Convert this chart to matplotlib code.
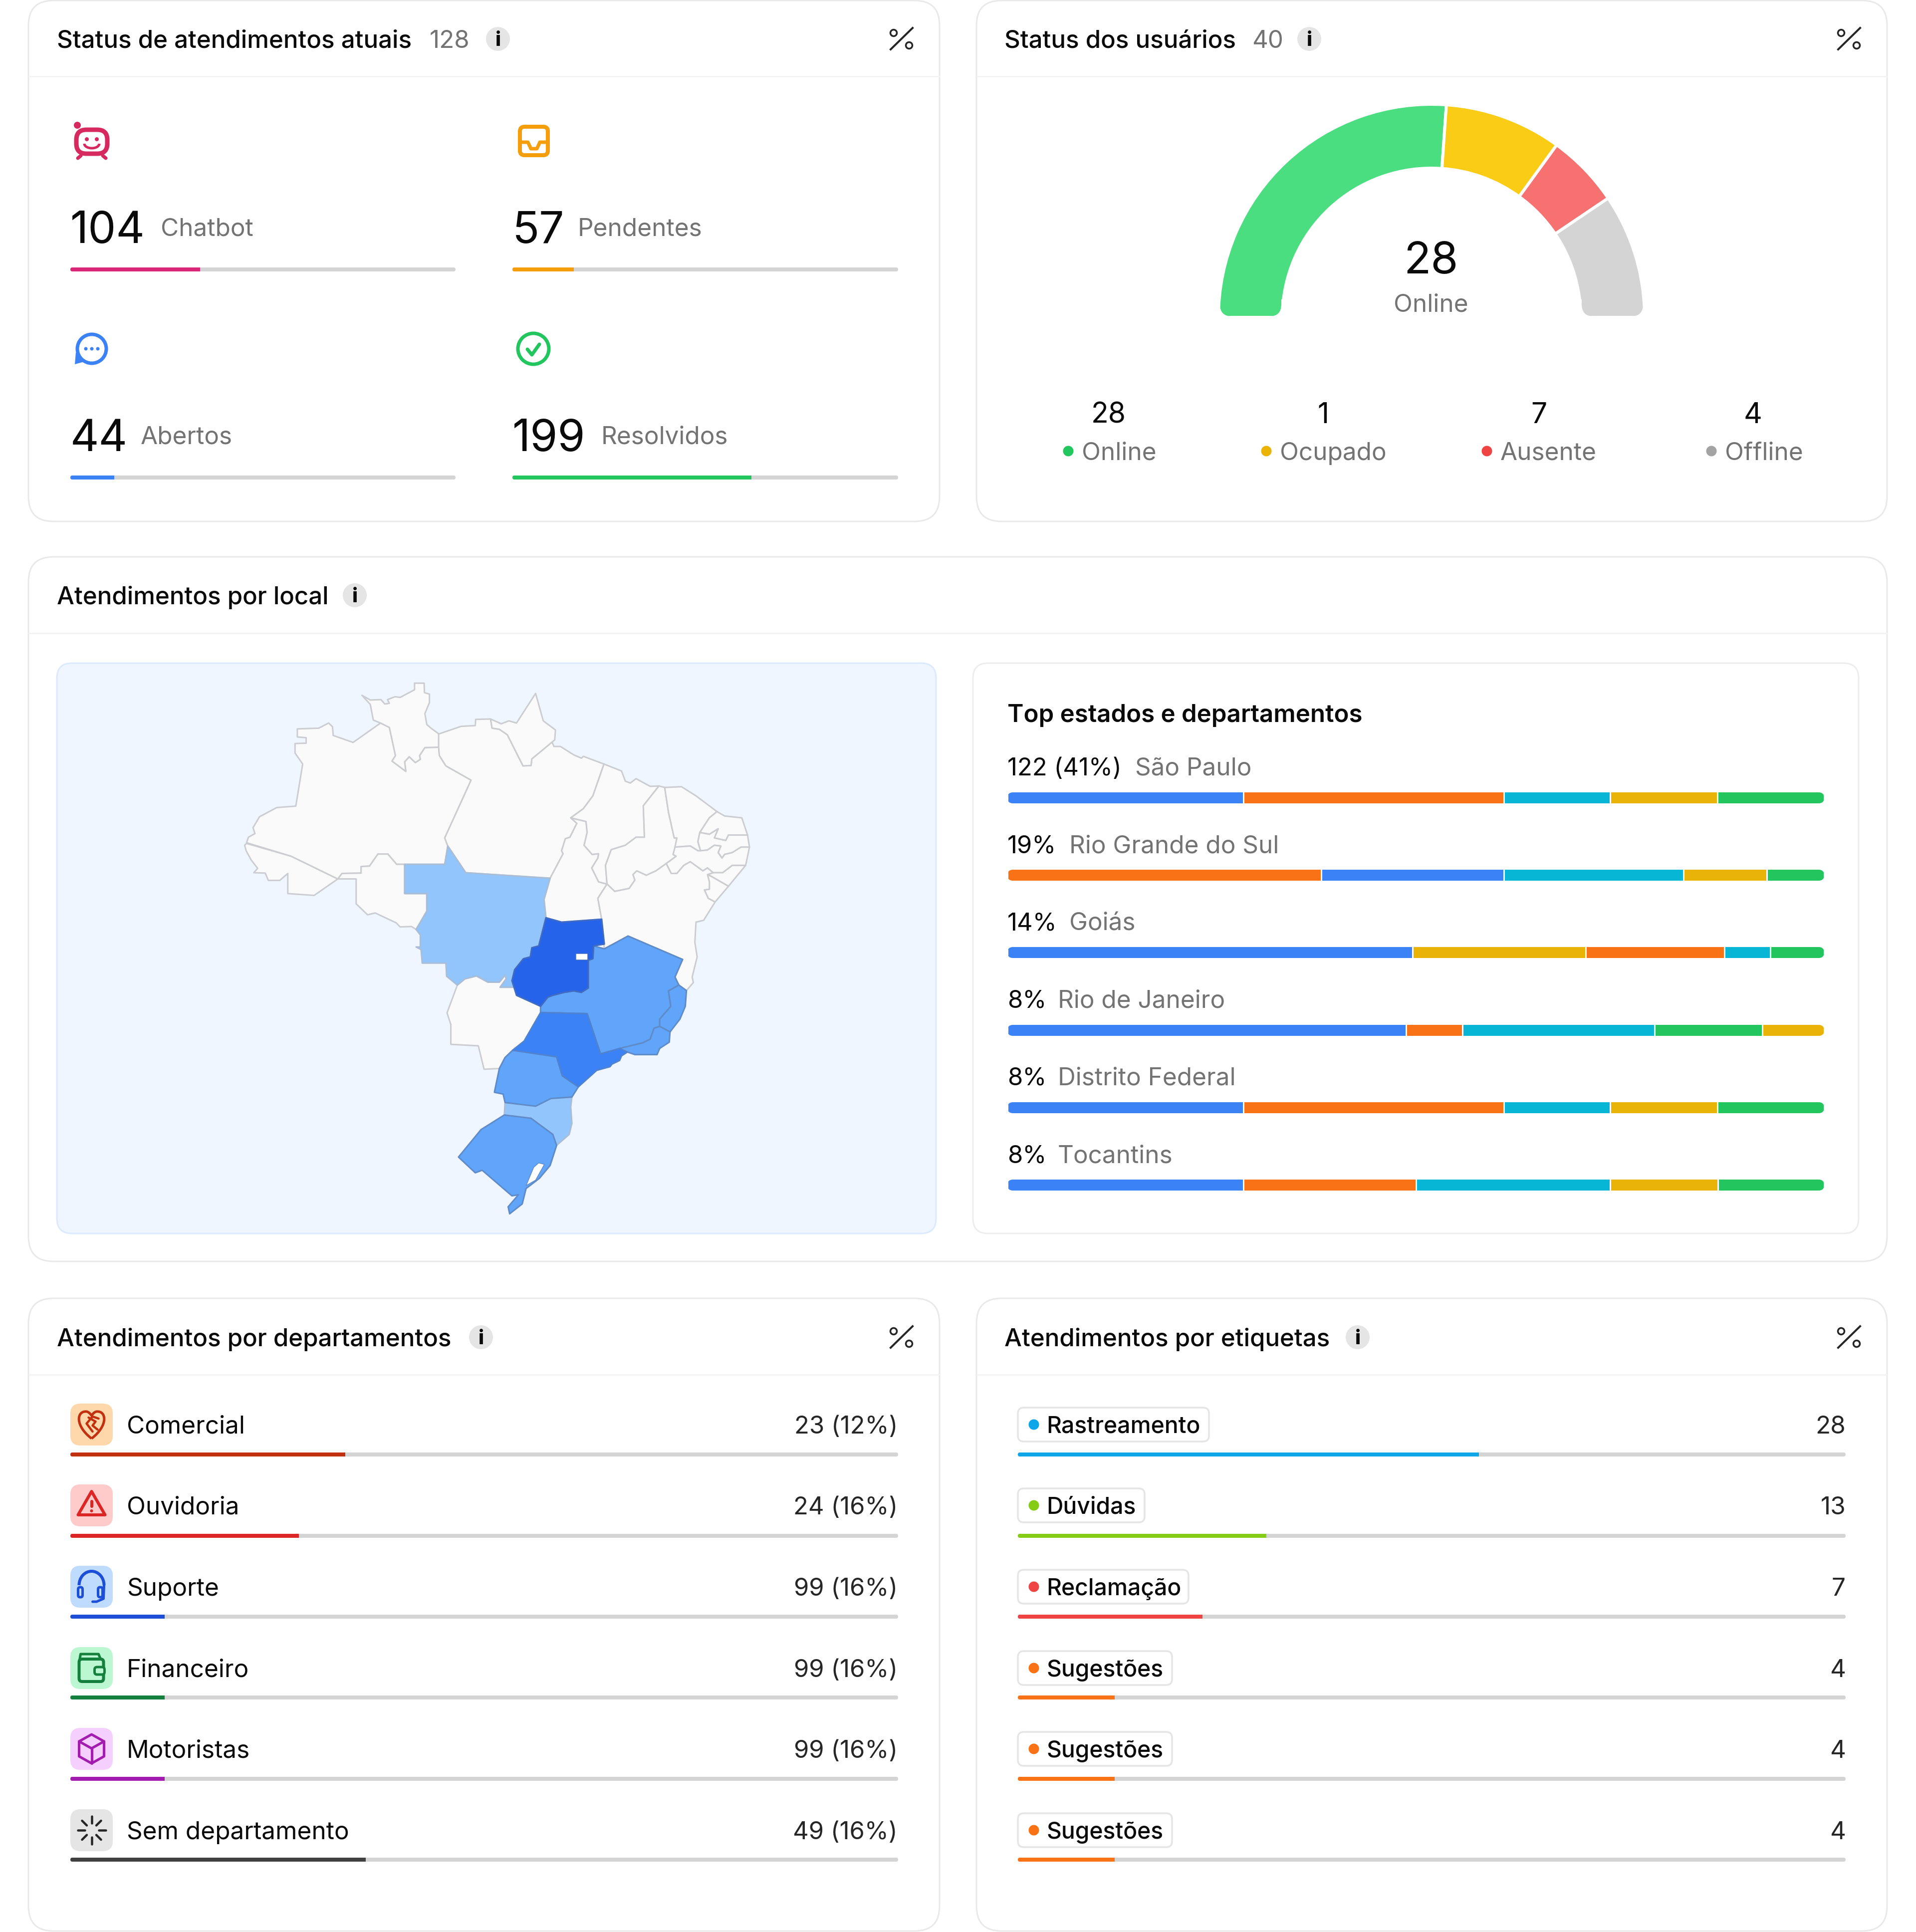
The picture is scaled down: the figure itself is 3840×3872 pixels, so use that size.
import matplotlib
matplotlib.use('Agg')
import matplotlib.pyplot as plt
from matplotlib.patches import FancyBboxPatch, Circle, Polygon, PathPatch, Arc, Ellipse
from matplotlib.path import Path
from matplotlib.transforms import Affine2D

plt.rcParams['font.family'] = ['Inter', 'DejaVu Sans']

# ---- data ----
status_labels = ['Chatbot', 'Pendentes', 'Abertos', 'Resolvidos']
status_values = [104, 57, 44, 199]
status_share = [33.7, 15.9, 11.4, 62.0]
status_colors = ['#DB2777', '#F59E0B', '#3B82F6', '#22C55E']

gauge_angles = [94, 32, 20, 34]
gauge_colors = ['#4ADE80', '#FACC15', '#F87171', '#D4D4D4']
user_labels = ['Online', 'Ocupado', 'Ausente', 'Offline']
user_values = [28, 1, 7, 4]
user_colors = ['#22C55E', '#EAB308', '#EF4444', '#A3A3A3']

top_values = ['122 (41%)', '19%', '14%', '8%', '8%', '8%']
top_states = ['São Paulo', 'Rio Grande do Sul', 'Goiás', 'Rio de Janeiro', 'Distrito Federal', 'Tocantins']
B, O, T, Y, G = '#3B82F6', '#F97316', '#06B6D4', '#EAB308', '#22C55E'
top_shares = [
    [28.9, 31.9, 13.0, 13.1, 13.1],
    [38.4, 22.4, 22.0, 10.2, 7.0],
    [49.6, 21.2, 17.0, 5.6, 6.6],
    [48.8, 6.9, 23.5, 13.2, 7.6],
    [28.9, 31.9, 13.0, 13.1, 13.1],
    [28.9, 21.1, 23.8, 13.2, 13.0],
]
top_colors = [
    [B, O, T, Y, G],
    [O, B, T, Y, G],
    [B, Y, O, T, G],
    [B, O, T, G, Y],
    [B, O, T, Y, G],
    [B, O, T, Y, G],
]

dept_labels = ['Comercial', 'Ouvidoria', 'Suporte', 'Financeiro', 'Motoristas', 'Sem departamento']
dept_values = ['23 (12%)', '24 (16%)', '99 (16%)', '99 (16%)', '99 (16%)', '49 (16%)']
dept_share = [33.2, 27.6, 11.4, 11.4, 11.4, 35.7]
dept_colors = ['#C2310F', '#DC2626', '#1D4ED8', '#15803D', '#A21CAF', '#404040']
dept_bg = ['#FED7AA', '#FECACA', '#BFDBFE', '#BBF7D0', '#F5D0FE', '#E5E5E5']

tag_labels = ['Rastreamento', 'Dúvidas', 'Reclamação', 'Sugestões', 'Sugestões', 'Sugestões']
tag_values = [28, 13, 7, 4, 4, 4]
tag_share = [55.7, 30.0, 22.3, 11.7, 11.7, 11.7]
tag_colors = ['#0EA5E9', '#84CC16', '#EF4444', '#F97316', '#F97316', '#F97316']

# state outlines, in map units, and how many attendances band each one falls in
states = {
    'AC': [(118,510),(123,505),(240,540),(362,602),(300,647),(231,642),(231,587),(210,606),(180,606),(172,586),(142,585),(152,573),(135,550),(122,525)],
    'AM': [(123,503),(128,488),(145,478),(140,462),(157,432),(202,407),(252,403),(270,288),(250,258),(250,232),(279,231),(279,216),(256,214),(256,192),(312,190),(338,176),(348,186),(350,210),(402,229),(474,176),(497,188),(513,265),(504,280),(540,308),(537,282),(549,268),(565,284),(578,275),(576,265),(590,243),(626,242),(628,265),(645,293),(711,332),(642,490),(650,512),(642,562),(516,562),(493,534),(467,534),(445,567),(423,568),(423,586),(373,587),(362,602),(240,540)],
    'RR': [(425,100),(447,113),(475,112),(485,124),(497,122),(492,112),(512,104),(525,106),(563,85),(563,67),(588,67),(589,93),(602,97),(602,120),(590,150),(595,180),(606,190),(627,206),(626,242),(590,243),(576,265),(578,275),(565,284),(549,268),(537,282),(540,308),(504,280),(513,265),(497,188),(474,176),(455,168),(447,125)],
    'PA': [(626,206),(685,185),(722,183),(723,166),(762,165),(766,190),(785,193),(806,208),(847,293),(868,292),(870,274),(923,228),(928,240),(945,240),(980,263),(1000,272),(1005,267),(1059,288),(1030,375),(1005,410),(972,435),(988,450),(970,488),(958,492),(948,525),(952,533),(918,600),(697,585),(650,512),(642,490),(711,332),(645,293),(628,265),(626,242)],
    'AP': [(762,165),(790,178),(810,170),(830,176),(880,95),(900,170),(932,195),(930,222),(870,274),(868,292),(847,293),(806,208),(785,193),(766,190)],
    'RO': [(362,602),(373,587),(423,586),(423,568),(445,567),(467,534),(493,534),(516,562),(537,562),(537,642),(595,642),(595,690),(567,740),(555,732),(525,733),(515,722),(460,695),(440,700),(410,670),(410,602)],
    'TO': [(918,600),(952,533),(948,525),(958,492),(970,488),(988,450),(972,435),(1012,445),(1015,475),(1007,510),(1028,535),(1045,533),(1043,545),(1027,572),(1045,610),(1067,616),(1043,655),(1053,712),(948,720),(907,708),(902,658)],
    'MA': [(1059,288),(1105,307),(1115,335),(1128,340),(1143,328),(1180,349),(1203,348),(1162,402),(1165,488),(1143,488),(1115,510),(1078,522),(1063,565),(1067,616),(1045,610),(1027,572),(1043,545),(1045,533),(1028,535),(1007,510),(1015,475),(1012,445),(972,435),(1005,410),(1030,375)],
    'PI': [(1203,348),(1218,352),(1228,420),(1243,490),(1250,490),(1245,520),(1240,535),(1248,540),(1222,560),(1195,580),(1170,592),(1145,580),(1135,590),(1140,605),(1125,628),(1087,636),(1067,616),(1063,565),(1078,522),(1115,510),(1143,488),(1165,488),(1162,402)],
    'CE': [(1218,352),(1262,350),(1300,375),(1355,418),(1335,435),(1310,475),(1305,500),(1312,525),(1305,525),(1285,512),(1245,515),(1250,490),(1243,490),(1228,420)],
    'RN': [(1355,418),(1375,430),(1420,435),(1435,482),(1385,482),(1378,497),(1348,490),(1358,465),(1335,480),(1310,475),(1335,435)],
    'PB': [(1310,475),(1335,480),(1358,465),(1348,490),(1378,497),(1385,482),(1435,482),(1440,515),(1418,515),(1395,530),(1375,535),(1368,545),(1358,530),(1365,512),(1348,510),(1330,523),(1312,525),(1305,500)],
    'PE': [(1245,515),(1285,512),(1305,525),(1312,525),(1330,523),(1348,510),(1365,512),(1358,530),(1368,545),(1375,535),(1395,530),(1418,515),(1440,515),(1430,565),(1395,565),(1370,585),(1345,585),(1330,572),(1318,580),(1285,555),(1268,565),(1250,587),(1235,587),(1222,560),(1248,540),(1240,535)],
    'AL': [(1330,590),(1345,585),(1370,585),(1395,565),(1430,565),(1385,622),(1340,595)],
    'SE': [(1330,590),(1340,595),(1385,622),(1350,665),(1332,655),(1322,632),(1335,630),(1335,610)],
    'BA': [(1067,616),(1087,636),(1125,628),(1140,605),(1135,590),(1145,580),(1170,592),(1195,580),(1222,560),(1235,587),(1250,587),(1268,565),(1285,555),(1318,580),(1330,572),(1345,585),(1330,590),(1335,610),(1335,630),(1322,632),(1332,655),(1350,665),(1320,715),(1300,720),(1297,775),(1303,815),(1290,870),(1293,885),(1275,907),(1255,892),(1245,870),(1265,822),(1122,758),(1060,793),(1053,712),(1043,655)],
    'MS': [(675,892),(695,875),(725,867),(755,884),(785,884),(800,865),(803,875),(787,898),(825,898),(830,920),(893,950),(893,967),(850,1045),(820,1070),(800,1090),(785,1120),(745,1122),(730,1058),(658,1054),(658,1000),(648,968)],
    'MT': [(650,512),(697,585),(918,600),(902,658),(907,708),(888,785),(870,790),(866,815),(848,820),(825,850),(818,880),(825,898),(787,898),(803,875),(800,865),(785,884),(755,884),(725,867),(695,875),(675,892),(647,868),(645,832),(583,832),(580,795),(567,788),(578,788),(578,755),(567,740),(595,690),(595,642),(537,642),(537,562),(642,562)],
    'SC': [(800,1213),(880,1223),(920,1202),(975,1198),(972,1225),(975,1270),(968,1300),(935,1330),(925,1300),(868,1256),(798,1247)],
    'PR': [(820,1070),(935,1088),(950,1140),(992,1170),(975,1198),(920,1202),(880,1223),(800,1213),(795,1190),(772,1185),(785,1120),(800,1090)],
    'RS': [(798,1247),(868,1256),(925,1300),(935,1330),(918,1385),(890,1420),(855,1448),(845,1490),(812,1517),(808,1498),(835,1465),(818,1468),(740,1398),(722,1405),(678,1362),(737,1287)],
    'MG': [(1122,758),(1265,822),(1245,870),(1255,892),(1228,908),(1234,950),(1205,985),(1205,1005),(1190,1010),(1180,1040),(1160,1050),(1050,1080),(1015,970),(893,967),(893,950),(912,925),(925,920),(955,912),(980,908),(1000,912),(1018,900),(1018,824),(1030,820),(1032,785),(1060,793)],
    'ES': [(1255,892),(1275,907),(1272,950),(1258,985),(1232,1020),(1205,1005),(1205,985),(1234,950),(1228,908)],
    'RJ': [(1190,1010),(1205,1005),(1232,1020),(1230,1048),(1205,1065),(1198,1082),(1140,1082),(1120,1075),(1098,1090),(1100,1065),(1160,1050),(1180,1040)],
    'SP': [(893,967),(1015,970),(1050,1080),(1100,1065),(1120,1075),(1105,1085),(1100,1098),(1080,1108),(1075,1115),(1040,1125),(992,1170),(950,1140),(935,1088),(820,1070),(850,1045)],
    'GO': [(907,708),(948,720),(1053,712),(1060,780),(1032,785),(1030,820),(1018,824),(1018,900),(1000,912),(980,908),(955,912),(925,920),(912,925),(893,950),(830,920),(818,880),(825,850),(848,820),(866,815),(870,790),(888,785)],
    'DF': [(985,806),(1017,806),(1017,824),(985,824)],
    'LAGOA': [(888,1378),(903,1382),(880,1425),(855,1440),(875,1390)],
}
state_band = {'MT': 1, 'SC': 1, 'MG': 2, 'ES': 2, 'RJ': 2, 'PR': 2, 'RS': 2, 'SP': 3, 'GO': 4}
band_fill = ['#FAFAFA', '#93C5FD', '#60A5FA', '#3B82F6', '#2563EB']
band_edge = ['#CBCDD0', '#A9BDD6', '#5F8CC8', '#4F82D0', '#3F6BC2']

# ---- figure, one axes in reference pixels for the layout ----
W, H = 3840, 3872
fig = plt.figure(figsize=(W / 100, H / 100), dpi=100, facecolor='white')
main = fig.add_axes([0, 0, 1, 1])
main.set_xlim(0, W)
main.set_ylim(H, 0)
main.axis('off')

INK = '#0A0A0A'
GREY = '#737373'
BODY = 49.5


def pt(px):
    return px * 0.72


def text(x, y, s, size, color=INK, weight='normal', ha='left'):
    # y is the middle of the capitals
    main.text(x, y + size * 0.36, s, fontsize=pt(size), color=color, fontweight=weight, ha=ha, va='baseline')


def rbox(x0, y0, x1, y1, r, fc='white', ec='none', lw=0, z=1):
    p = FancyBboxPatch((x0, y0), x1 - x0, y1 - y0, boxstyle=f'round,pad=0,rounding_size={r}',
                       fc=fc, ec=ec, lw=pt(lw), zorder=z, transform=main.transData)
    main.add_patch(p)
    return p


def clip_box(x0, y0, x1, y1, r):
    return FancyBboxPatch((x0, y0), x1 - x0, y1 - y0, boxstyle=f'round,pad=0,rounding_size={r}',
                          transform=main.transData)


def px_axes(x0, y0, x1, y1):
    ax = fig.add_axes([x0 / W, 1 - y1 / H, (x1 - x0) / W, (y1 - y0) / H])
    ax.axis('off')
    return ax


def progress(x0, x1, y, share, color, h=8):
    ax = px_axes(x0, y - h, x1, y + h)
    ax.set_xlim(0, 100)
    ax.set_ylim(-1, 1)
    bg = ax.barh(0, 100, height=1, color='#D4D4D4')
    fg = ax.barh(0, share, height=1, color=color)
    clip = clip_box(x0, y - h / 2, x1, y + h / 2, h / 2)
    for b in list(bg) + list(fg):
        b.set_clip_path(clip)


def card(x0, y0, x1, y1, line_y):
    rbox(x0, y0, x1, y1, 50, ec='#E9E9E9', lw=3)
    main.plot([x0, x1], [line_y, line_y], color='#F4F4F4', lw=pt(3), zorder=2, solid_capstyle='butt')


def info(x, y):
    main.add_patch(Ellipse((x, y), 48, 48, fc='#E5E5E5', ec='none', zorder=3))
    main.text(x, y + 14, 'i', fontsize=pt(39), fontweight='heavy', color=INK, ha='center', va='baseline', zorder=4)


def pct_icon(x, y):
    main.plot([x - 22, x + 22], [y + 21, y - 22], color='#262626', lw=pt(4), zorder=3)
    for dx, dy in [(-16, -12), (15, 13)]:
        main.add_patch(Ellipse((x + dx, y + dy), 13, 13, fc='none', ec='#262626', lw=pt(3.5), zorder=3))


def line(xs, ys, color, lw=6, z=4):
    main.plot(xs, ys, color=color, lw=pt(lw), zorder=z, solid_capstyle='round', solid_joinstyle='round')


def ring(x, y, r, color, lw=6, fc='none', z=4):
    main.add_patch(Circle((x, y), r, fc=fc, ec=color, lw=pt(lw), zorder=z))


# ---- cards ----
card(57, 1, 1883, 1045, 153)
card(1957, 1, 3782, 1045, 153)
card(57, 1116, 3782, 2528, 1269)
card(57, 2602, 1883, 3870, 2755)
card(1957, 2602, 3782, 3870, 2755)

TITLE = 49.3
text(114, 78, 'Status de atendimentos atuais', TITLE, weight='medium')
text(861, 78, '128', TITLE, GREY)
info(998, 78)
pct_icon(1807, 78)
text(2013, 78, 'Status dos usuários', TITLE, weight='medium')
text(2509, 78, '40', TITLE, GREY)
info(2624, 78)
pct_icon(3706, 78)
text(114, 1193, 'Atendimentos por local', TITLE, weight='medium')
info(711, 1193)
text(114, 2680, 'Atendimentos por departamentos', TITLE, weight='medium')
info(964, 2680)
pct_icon(1807, 2680)
text(2013, 2680, 'Atendimentos por etiquetas', TITLE, weight='medium')
info(2721, 2680)
pct_icon(3706, 2680)

# ---- status cards ----
status_x0 = [141, 1027, 141, 1027]
status_x1 = [913, 1800, 913, 1800]
status_y = [455, 455, 872, 872]
status_bar_y = [540, 540, 957, 957]
status_label_x = [322, 1158, 282, 1205]
for i in range(4):
    text(status_x0[i], status_y[i], str(status_values[i]), 89)
    text(status_label_x[i], status_y[i], status_labels[i], BODY, GREY)
    progress(status_x0[i], status_x1[i], status_bar_y[i], status_share[i], status_colors[i], h=8)

# chatbot icon
bot = '#D6295F'
rbox(153, 260, 215, 308, 20, fc='none', ec=bot, lw=9, z=4)
main.add_patch(Circle((155, 251), 7, fc=bot, zorder=4))
main.add_patch(Circle((174, 279), 4, fc=bot, zorder=4))
main.add_patch(Circle((194, 279), 4, fc=bot, zorder=4))
main.add_patch(Arc((184, 288), 30, 18, theta1=0, theta2=180, ec=bot, lw=pt(5), zorder=4))
line([162, 156], [312, 317], bot, 7)
line([206, 212], [312, 317], bot, 7)
# inbox icon
rbox(1042, 254, 1098, 311, 9, ec=status_colors[1], lw=8, z=4)
line([1042, 1058, 1064, 1076, 1082, 1098], [285, 285, 298, 298, 285, 285], status_colors[1], 7)
# chat icon
ring(184, 699, 29, status_colors[2], 7)
main.add_patch(Polygon([(150, 730), (152, 706), (172, 724)], fc=status_colors[2], zorder=4))
main.add_patch(Circle((184, 699), 25, fc='white', zorder=4))
for dx in [-12, 0, 12]:
    main.add_patch(Circle((184 + dx, 699), 3.5, fc=status_colors[2], zorder=5))
# check icon
ring(1069, 699, 31, status_colors[3], 7)
line([1057, 1066, 1081], [700, 711, 690], status_colors[3], 7)

# ---- gauge, angles add up to half a turn ----
R = 427
gx, gy = 2869, 636
gauge_ax = px_axes(gx - R, gy - R, gx + R, gy + R)
wedges, _ = gauge_ax.pie(gauge_angles + [180], colors=gauge_colors + ['white'], startangle=180,
                         counterclock=False, radius=1,
                         wedgeprops=dict(width=128 / R, edgecolor='white', linewidth=pt(6)))
gauge_ax.set_xlim(-1, 1)
gauge_ax.set_ylim(-1, 1)
wedges[-1].set_visible(False)
# rounded feet: everything above them stays, the feet get round corners
top_part = Path.unit_rectangle().transformed(Affine2D().scale(2 * R + 20, R - 26).translate(gx - R - 10, gy - R - 10))
foot_l = clip_box(2445, 575, 2568, 634, 24)
foot_r = clip_box(3170, 575, 3293, 634, 24)
clip_path = Path.make_compound_path(top_part, foot_l.get_path(), foot_r.get_path())
clip_patch = PathPatch(clip_path, transform=main.transData)
for wd in wedges[:-1]:
    wd.set_clip_on(True)
    wd.set_clip_path(clip_patch)

text(2868, 516, str(user_values[0]), 89, ha='center')
text(2868, 607, user_labels[0], BODY, GREY, ha='center')

user_x = [2222, 2652, 3084, 3513]
user_dot_x = [2141, 2538, 2980, 3430]
for i in range(4):
    text(user_x[i], 827, str(user_values[i]), 57, ha='center')
    main.add_patch(Circle((user_dot_x[i], 904), 10.5, fc=user_colors[i], zorder=4))
    text(user_dot_x[i] + 27, 904, user_labels[i], BODY, GREY)

# ---- map ----
rbox(114, 1329, 1876, 2472, 30, fc='#EFF6FF', ec='#DBEAFE', lw=3)
map_ax = px_axes(400, 1320, 1600, 2470)
map_ax.set_xlim(0, 1568)
map_ax.set_ylim(1568, 0)
for name, pts in states.items():
    if name in ('DF', 'LAGOA'):
        continue
    band = state_band.get(name, 0)
    map_ax.add_patch(Polygon(pts, closed=True, fc=band_fill[band], ec=band_edge[band], lw=pt(3), joinstyle='round', zorder=1 + band / 10))
map_ax.add_patch(Polygon(states['DF'], closed=True, fc='white', ec='#3F6BC2', lw=pt(1.5), zorder=3))
map_ax.add_patch(Polygon(states['LAGOA'], closed=True, fc='white', ec='#5F8CC8', lw=pt(1.5), zorder=3))

# ---- top states ----
rbox(1950, 1329, 3725, 2472, 30, fc='white', ec='#EDEDED', lw=3)
text(2019, 1429, 'Top estados e departamentos', TITLE, weight='semibold')
label_y = [1536, 1692, 1847, 2002, 2157, 2313]
bar_y = [1599, 1754, 1909, 2065, 2220, 2375]
state_x = [2275, 2143, 2143, 2120, 2120, 2120]
for i in range(6):
    text(2019, label_y[i], top_values[i], 49)
    text(state_x[i], label_y[i], top_states[i], BODY, GREY)
    ax = px_axes(2019, bar_y[i] - 16, 3656, bar_y[i] + 16)
    ax.set_xlim(0, sum(top_shares[i]))
    ax.set_ylim(-1, 1)
    clip = clip_box(2019, bar_y[i] - 11, 3656, bar_y[i] + 11, 11)
    left = 0
    for share, col in zip(top_shares[i], top_colors[i]):
        for b in ax.barh(0, share, left=left, height=2, color=col, edgecolor='white', linewidth=pt(3)):
            b.set_clip_path(clip)
        left += share

# ---- departments ----
row_y = [2855, 3017, 3180, 3343, 3505, 3668]
row_bar_y = [2915, 3078, 3240, 3402, 3565, 3727]
for i in range(6):
    rbox(141, row_y[i] - 42, 226, row_y[i] + 42, 20, fc=dept_bg[i], z=3)
    text(254, row_y[i], dept_labels[i], BODY)
    text(1799, row_y[i], dept_values[i], 49, '#262626', ha='right')
    progress(141, 1800, row_bar_y[i], dept_share[i], dept_colors[i], h=8)

ix = 183.5
# heart
c, y = dept_colors[0], row_y[0]
heart = Path([(ix, y + 28), (ix - 34, y + 2), (ix - 30, y - 28), (ix - 10, y - 26), (ix - 4, y - 25), (ix, y - 18), (ix, y - 18),
              (ix, y - 18), (ix + 4, y - 25), (ix + 10, y - 26), (ix + 30, y - 28), (ix + 34, y + 2), (ix, y + 28)],
             [Path.MOVETO, Path.CURVE4, Path.CURVE4, Path.CURVE4, Path.CURVE4, Path.CURVE4, Path.CURVE4,
              Path.CURVE4, Path.CURVE4, Path.CURVE4, Path.CURVE4, Path.CURVE4, Path.CURVE4])
main.add_patch(PathPatch(heart, fc='none', ec=c, lw=pt(5), joinstyle='round', zorder=5))
line([ix - 6, ix + 8, ix + 2, ix + 12], [y - 14, y - 6, y + 2, y + 10], c, 4.5, 5)
line([ix + 14, ix + 2, ix - 10, ix + 2], [y - 12, y - 16, y - 2, y + 14], c, 4.5, 5)
# warning triangle
c, y = dept_colors[1], row_y[1]
main.add_patch(Polygon([(ix, y - 28), (ix + 27, y + 19), (ix - 27, y + 19)], fc='none', ec=c, lw=pt(6), joinstyle='round', zorder=5))
line([ix, ix], [y - 8, y + 2], c, 6, 5)
main.add_patch(Circle((ix, y + 11), 3, fc=c, zorder=5))
# headset
c, y = dept_colors[2], row_y[2]
main.add_patch(Arc((ix, y - 3), 50, 56, theta1=180, theta2=360, ec=c, lw=pt(6), zorder=5))
rbox(ix - 27, y + 1, ix - 18, y + 21, 4, fc='none', ec=c, lw=5, z=5)
rbox(ix + 13, y + 1, ix + 22, y + 21, 4, fc='none', ec=c, lw=5, z=5)
line([ix + 25, ix + 24, ix + 10, ix + 2], [y - 3, y + 24, y + 30, y + 30], c, 5, 5)
# wallet
c, y = dept_colors[3], row_y[3]
rbox(ix - 25, y - 18, ix + 24, y + 27, 6, fc='none', ec=c, lw=6, z=5)
line([ix - 24, ix - 22, ix + 14, ix + 18], [y - 16, y - 28, y - 28, y - 18], c, 5, 5)
rbox(ix + 6, y - 2, ix + 26, y + 13, 5, fc=dept_bg[3], ec=c, lw=5, z=6)
# cube
c, y = dept_colors[4], row_y[4]
main.add_patch(Polygon([(ix, y - 29), (ix + 25, y - 15), (ix + 25, y + 15), (ix, y + 29), (ix - 25, y + 15), (ix - 25, y - 15)],
                       fc='none', ec=c, lw=pt(5), joinstyle='round', zorder=5))
line([ix - 25, ix, ix + 25], [y - 15, y - 1, y - 15], c, 5, 5)
line([ix, ix], [y - 1, y + 29], c, 5, 5)
# spinner
c, y = '#262626', row_y[5]
spokes = [(0, -1), (0.68, -0.68), (1, 0), (0.68, 0.68), (0, 1), (-0.68, 0.68), (-1, 0), (-0.68, -0.68)]
for dx, dy in spokes:
    line([ix + 14 * dx, ix + 28 * dx], [y + 14 * dy, y + 28 * dy], c, 4.5, 5)

# ---- tags ----
tag_right = [2423, 2294, 2382, 2349, 2349, 2349]
for i in range(6):
    rbox(2040, row_y[i] - 34, tag_right[i], row_y[i] + 34, 12, ec='#E5E5E5', lw=3.5, z=3)
    main.add_patch(Circle((2072, row_y[i]), 10.5, fc=tag_colors[i], zorder=4))
    text(2097, row_y[i], tag_labels[i], 46.3, INK, weight='medium')
    text(3699, row_y[i], str(tag_values[i]), 49.5, '#262626', ha='right')
    progress(2040, 3699, row_bar_y[i], tag_share[i], tag_colors[i], h=8)

fig.savefig('out.png', dpi=100, facecolor='white')
